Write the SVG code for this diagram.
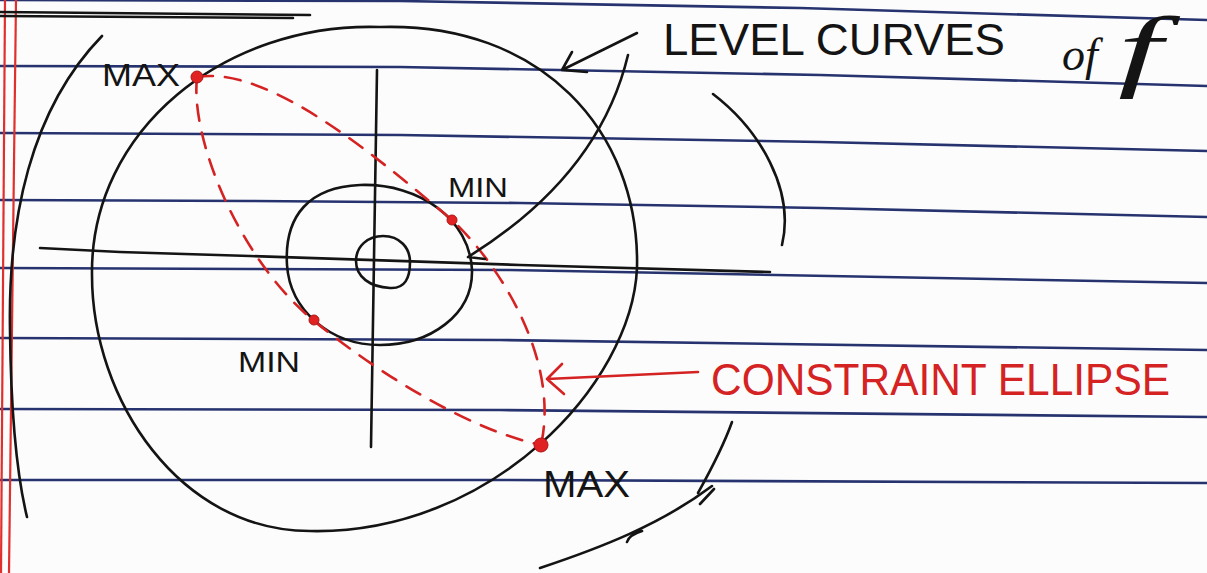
<svg xmlns="http://www.w3.org/2000/svg" width="1207" height="573" viewBox="0 0 1207 573">
  <style>
    .rule{fill:none;stroke:#26336f;stroke-width:2.6;stroke-linecap:round}
    .margin{fill:none;stroke:#e0302e;stroke-width:2.2}
    .ink{fill:none;stroke:#141414;stroke-width:2.6;stroke-linecap:round;stroke-linejoin:round}
    .red{fill:none;stroke:#d52222;stroke-width:2.6;stroke-linecap:round;stroke-linejoin:round}
    .dash{fill:none;stroke:#d52222;stroke-width:2.6;stroke-linecap:round;stroke-dasharray:16 12}
    .dot{fill:#e02222;stroke:#b01515;stroke-width:1}
    .lbl{font-family:"Liberation Sans","DejaVu Sans",sans-serif;fill:#141414}
    .rlbl{font-family:"Liberation Sans","DejaVu Sans",sans-serif;fill:#d52222}
    .it{font-family:"Liberation Serif","DejaVu Serif",serif;font-style:italic;fill:#141414}
  </style>
  <rect width="1207" height="573" fill="#fcfcfc"/>
  <g id="paper">
    <polyline class="rule" points="0,0 400,1 800,8 1207,20"/>
    <polyline class="rule" points="0,66 400,67 820,75 1207,86"/>
    <polyline class="rule" points="0,133 400,135 820,142 1207,151"/>
    <polyline class="rule" points="0,200 250,201 520,203 820,208 1207,217"/>
    <polyline class="rule" points="0,268 250,269 510,270 1207,283"/>
    <polyline class="rule" points="0,338 500,340 1207,350"/>
    <polyline class="rule" points="0,409 500,410 1207,417"/>
    <polyline class="rule" points="0,480 500,480 1207,483"/>
    <line class="margin" x1="5" y1="0" x2="1" y2="573"/>
    <line class="margin" x1="16" y1="0" x2="9" y2="573"/>
    <path class="ink" d="M0,12 L310,15 M0,16 L293,18" stroke-width="2.4"/>
  </g>
  <g id="level-curves">
    <path id="outer-arc" class="ink" d="M102,36 C 30,110 8,220 10,330 C 11,420 18,480 27,517"/>
    <path id="big-circle" class="ink" d="M380,27 C 540,22 640,130 637,268 C 632,385 490,535 310,531 C 180,531 92,400 92,275 C 90,130 225,22 380,27 Z"/>
    <path id="mid-circle" class="ink" d="M360,185 C 420,183 470,220 472,270 C 473,315 430,345 380,345 C 330,345 290,310 287,265 C 284,215 310,187 360,185 Z"/>
    <path id="small-circle" class="ink" d="M383,236 C 400,236 410,248 410,262 C 410,278 405,289 390,288 C 370,287 356,277 356,261 C 356,246 368,236 383,236 Z"/>
    <path id="right-arc" class="ink" d="M713,94 C 760,130 795,190 782,245"/>
    <path id="lower-right-arc" class="ink" d="M732,422 C 722,450 708,475 698,493"/>
    <path id="lower-line" class="ink" d="M540,568 C 600,548 660,525 712,486 M627,542 Q 629,535 642,531 M700,504 L714,489"/>
  </g>
  <g id="axes">
    <polyline id="x-axis" class="ink" points="40,248 120,252 250,256 520,265 770,272"/>
    <line id="y-axis" class="ink" x1="377" y1="70" x2="371" y2="447"/>
  </g>
  <g id="constraint-ellipse">
    <path class="dash" d="M197,77 C 270,65 380,160 452,220 C 500,265 560,360 541,445"/>
    <path class="dash" d="M197,77 C 190,140 240,260 313,320 C 380,375 470,430 541,445"/>
    <circle class="dot" cx="197" cy="77" r="6"/>
    <circle class="dot" cx="452" cy="220" r="5"/>
    <circle class="dot" cx="314" cy="320" r="5" fill="#a01818"/>
    <circle class="dot" cx="541" cy="445" r="7"/>
  </g>
  <g id="labels">
    <text class="lbl" x="102" y="86" font-size="32" textLength="78" lengthAdjust="spacingAndGlyphs">MAX</text>
    <text class="lbl" x="448" y="197" font-size="28" textLength="60" lengthAdjust="spacingAndGlyphs">MIN</text>
    <text class="lbl" x="238" y="372" font-size="30" textLength="62" lengthAdjust="spacingAndGlyphs">MIN</text>
    <text class="lbl" x="543" y="497" font-size="36" textLength="87" lengthAdjust="spacingAndGlyphs">MAX</text>
  </g>
  <g id="level-curves-note">
    <text class="lbl" x="663" y="55" font-size="44" textLength="342" lengthAdjust="spacingAndGlyphs">LEVEL CURVES</text>
    <text class="it" x="1062" y="70" font-size="46">of</text>
    <text class="it" x="1118" y="80" font-size="90" textLength="44" lengthAdjust="spacingAndGlyphs">f</text>
    <path class="ink" d="M637,33 L562,70 M572,52 L562,70 L587,72"/>
    <path class="ink" d="M628,55 C 610,130 560,200 468,257 L485,259"/>
  </g>
  <g id="constraint-note">
    <text class="rlbl" x="711" y="395" font-size="44" textLength="459" lengthAdjust="spacingAndGlyphs">CONSTRAINT ELLIPSE</text>
    <path class="red" d="M698,372 L547,379 M562,364 L547,379 L564,394"/>
  </g>
</svg>
